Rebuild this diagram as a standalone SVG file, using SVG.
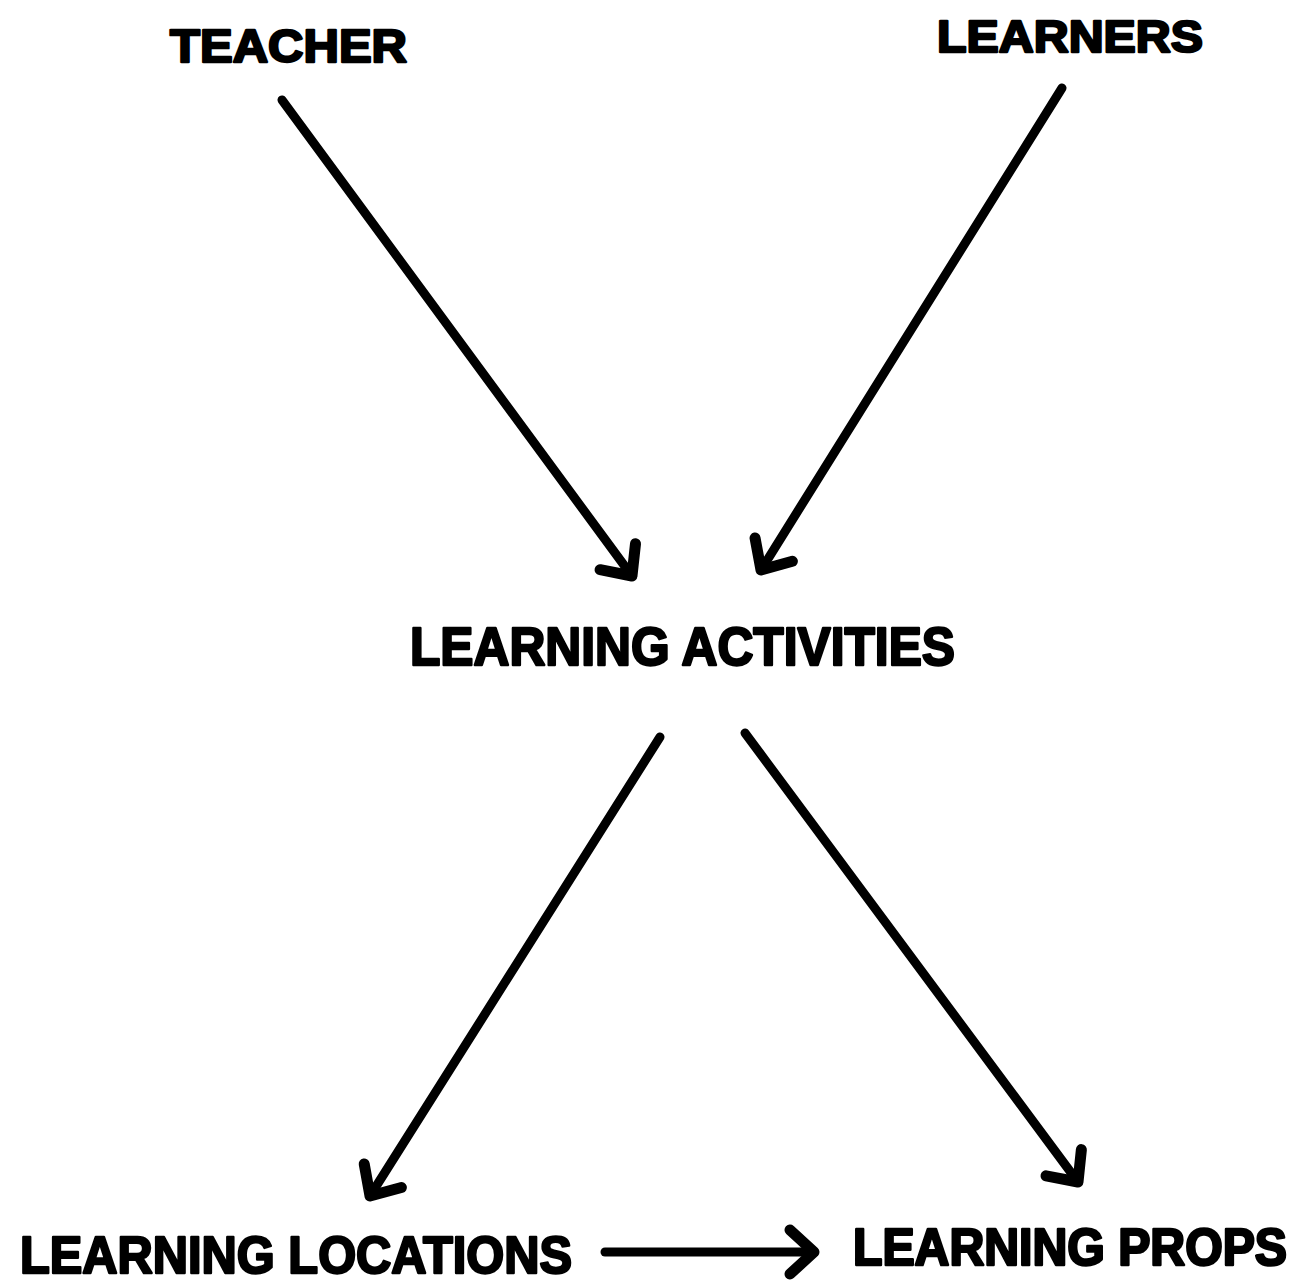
<svg xmlns="http://www.w3.org/2000/svg" width="1302" height="1284" viewBox="0 0 1302 1284">
<style>
.lbl{font-family:"Liberation Sans",Arial,sans-serif;font-weight:bold;fill:#000;stroke:#000;stroke-width:2.4;stroke-linejoin:round}
.edge{fill:none;stroke:#000;stroke-width:9;stroke-linecap:round;stroke-linejoin:round}
</style>
<defs>
<marker id="ah" markerUnits="userSpaceOnUse" markerWidth="60" markerHeight="60" viewBox="-40 -30 50 60" refX="0" refY="0" orient="auto">
<path d="M-24,-22 L0,0 L-24,22" fill="none" stroke="#000" stroke-width="11" stroke-linecap="round" stroke-linejoin="round"/>
</marker>
</defs>
<rect width="1302" height="1284" fill="#fff"/>
<g id="teacher"><text class="lbl" x="170" y="62" font-size="46" textLength="237" lengthAdjust="spacingAndGlyphs">TEACHER</text></g>
<g id="learners"><text class="lbl" x="937" y="52" font-size="45" textLength="266" lengthAdjust="spacingAndGlyphs">LEARNERS</text></g>
<g id="activities"><text class="lbl" x="410" y="665" font-size="54" textLength="545" lengthAdjust="spacingAndGlyphs">LEARNING ACTIVITIES</text></g>
<g id="locations"><text class="lbl" x="20" y="1273" font-size="52" textLength="552" lengthAdjust="spacingAndGlyphs">LEARNING LOCATIONS</text></g>
<g id="props"><text class="lbl" transform="translate(853,1265) scale(1,1.07)" x="0" y="0" font-size="48" textLength="434" lengthAdjust="spacingAndGlyphs">LEARNING PROPS</text></g>
<g id="connectors">
<path class="edge" d="M282,100 L632,576" marker-end="url(#ah)"/>
<path class="edge" d="M1062,88 L761,570" marker-end="url(#ah)"/>
<path class="edge" d="M660,737 L370,1196" marker-end="url(#ah)"/>
<path class="edge" d="M745,733 L1078,1182" marker-end="url(#ah)"/>
<path class="edge" d="M605,1252 L814,1252" marker-end="url(#ah)"/>
</g>
</svg>
